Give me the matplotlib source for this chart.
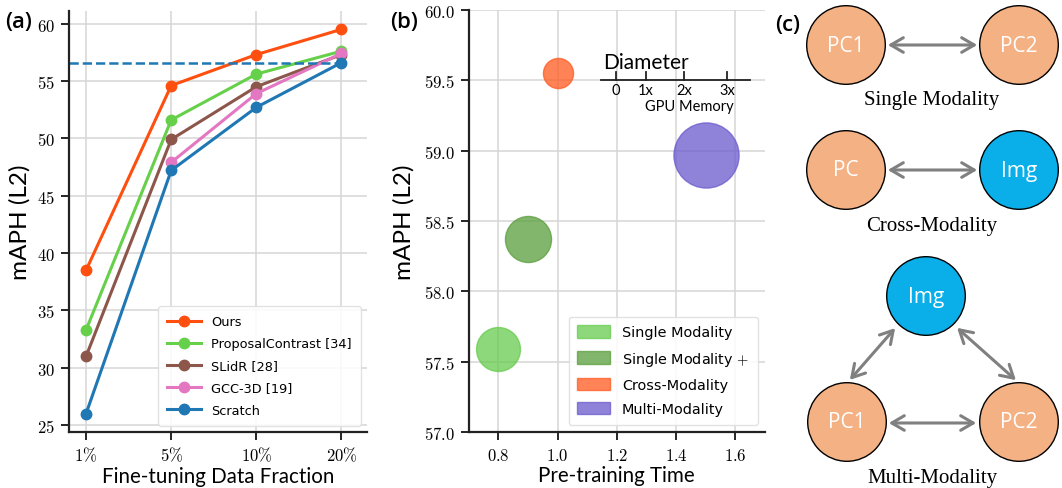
import numpy as np
import matplotlib
matplotlib.use("Agg")
import matplotlib.pyplot as plt
from matplotlib.patches import Circle, FancyArrowPatch, Patch
from matplotlib.ticker import FuncFormatter

plt.rcParams['mathtext.fontset'] = 'cm'

# ---- panel (a) data ----
fractions = ['1%', '5%', '10%', '20%']
methods = ['Ours', 'ProposalContrast [34]', 'SLidR [28]', 'GCC-3D [19]', 'Scratch']
scores = [
    [38.5, 54.6, 57.3, 59.5],
    [33.3, 51.6, 55.6, 57.6],
    [31.0, 49.9, 54.5, 57.3],
    [np.nan, 47.9, 53.9, 57.4],
    [26.0, 47.2, 52.7, 56.6],
]
line_colors = ['#ff4f0f', '#66d04a', '#8c564b', '#e377c2', '#1f77b4']

# ---- panel (b) data ----
groups = ['Single Modality', 'Single Modality $+$', 'Cross-Modality', 'Multi-Modality']
pretrain_time = [0.8, 0.9, 1.0, 1.5]
maph = [57.59, 58.37, 59.55, 58.97]
bubble_size = [1000, 1100, 470, 2200]
bubble_colors = ['#66cc4d', '#5a9e3c', '#ff5a1f', '#6a5acd']
scale_labels = ['0', '1x', '2x', '3x']
scale_pos = [1.197, 1.297, 1.428, 1.573]

fig = plt.figure(figsize=(10.62, 4.89), dpi=100)

tick_fmt = FuncFormatter(lambda v, p: '$%g$' % v)


def style_axes(ax):
    for s in ['top', 'right']:
        ax.spines[s].set_visible(False)
    for s in ['left', 'bottom']:
        ax.spines[s].set_linewidth(1.6)
        ax.spines[s].set_color('#222222')
    ax.grid(True, color='#d6d6d6', linewidth=1.1)
    ax.set_axisbelow(True)
    ax.tick_params(length=6, width=1.2, labelsize=12, pad=4)


# ---------------- (a) ----------------
ax1 = fig.add_axes([0.065, 0.1145, 0.2806, 0.861])
style_axes(ax1)
xs = np.arange(len(fractions))
for name, vals, c in zip(methods, scores, line_colors):
    ax1.plot(xs, vals, '-o', color=c, lw=2.2, ms=7.5, label=name)
ax1.hlines(scores[-1][-1], -0.2, 3, colors='#1f77b4', linestyles='--', lw=1.8)
ax1.set_xlim(-0.2, 3.3)
ax1.set_ylim(24.4, 61.1)
ax1.set_yticks([25, 30, 35, 40, 45, 50, 55, 60])
ax1.yaxis.set_major_formatter(tick_fmt)
ax1.set_xticks(xs)
ax1.set_xticklabels(['$' + f.replace('%', r'\%') + '$' for f in fractions])
ax1.set_ylabel('mAPH (L2)', labelpad=5, family='Lato', fontsize=17.5)
ax1.set_xlabel('Fine-tuning Data Fraction', labelpad=1, family='Lato', fontsize=14.8)
ax1.legend(loc='lower right', fontsize=9.3, handlelength=2.6, framealpha=0.85,
           edgecolor='#dddddd', borderpad=0.7, labelspacing=0.7, handletextpad=0.8)
fig.text(0.005, 0.953, '(a)', family='Open Sans', fontweight='semibold', fontsize=16, va='center')

# ---------------- (b) ----------------
ax2 = fig.add_axes([0.4413, 0.1145, 0.279, 0.863])
style_axes(ax2)
for g, t, m, s, c in zip(groups, pretrain_time, maph, bubble_size, bubble_colors):
    ax2.scatter(t, m, s=s, color=c, alpha=0.75, edgecolors=c, linewidths=1, label=g)
ax2.set_xlim(0.7, 1.7)
ax2.set_ylim(57.0, 60.0)
ax2.set_xticks([0.8, 1.0, 1.2, 1.4, 1.6])
ax2.set_yticks([57.0, 57.5, 58.0, 58.5, 59.0, 59.5, 60.0])
ax2.xaxis.set_major_formatter(FuncFormatter(lambda v, p: '$%.1f$' % v))
ax2.yaxis.set_major_formatter(FuncFormatter(lambda v, p: '$%.1f$' % v))
ax2.set_ylabel('mAPH (L2)', labelpad=7, family='Lato', fontsize=17.5)
ax2.set_xlabel('Pre-training Time', labelpad=1, family='Lato', fontsize=14.8)
handles = [Patch(facecolor=c, edgecolor=c, alpha=0.75) for c in bubble_colors]
ax2.legend(handles, groups, loc='lower right', fontsize=10.4, framealpha=0.85,
           edgecolor='#dddddd', handlelength=2.3, handleheight=0.95, handletextpad=0.8,
           borderpad=0.6, labelspacing=0.7)

# diameter scale
ax2.plot([1.148, 1.648], [59.5, 59.5], color='#222222', lw=1.3)
for p, lab in zip(scale_pos, scale_labels):
    ax2.plot([p, p], [59.5, 59.56], color='#222222', lw=1.3)
    ax2.text(p, 59.43, lab, ha='center', va='center', family='Lato', fontsize=10.5)
ax2.text(1.153, 59.63, 'Diameter', ha='left', va='center', family='Lato', fontsize=15)
ax2.text(1.445, 59.32, 'GPU Memory', ha='center', va='center', family='Lato', fontsize=10.5)
fig.text(0.367, 0.953, '(b)', family='Open Sans', fontweight='semibold', fontsize=16, va='center')

# ---------------- (c) ----------------
ax3 = fig.add_axes([770 / 1062, 0, 292 / 1062, 1])
ax3.set_xlim(0, 292)
ax3.set_ylim(489, 0)
ax3.axis('off')

pc_color = '#f4b183'
img_color = '#0aafe9'
r = 39.3
nodes = [
    (76, 46, 'PC1', pc_color), (249, 46, 'PC2', pc_color),
    (76, 171, 'PC', pc_color), (249, 171, 'Img', img_color),
    (156, 297, 'Img', img_color), (77, 423, 'PC1', pc_color), (249, 423, 'PC2', pc_color),
]
for x, y, t, c in nodes:
    ax3.add_patch(Circle((x, y), r, facecolor=c, edgecolor='black', lw=1.0))
    ax3.text(x, y, t, color='white', ha='center', va='center', family='Open Sans', fontsize=15)

arrows = [((115, 46), (210, 46)), ((115, 171), (210, 171)), ((116, 424), (209, 424)),
          ((78, 383), (127, 327)), ((185, 327), (248, 383))]
for a, b in arrows:
    ax3.add_patch(FancyArrowPatch(a, b, arrowstyle='<->,head_length=6,head_width=3.5',
                                  color='#808080', lw=2.2, mutation_scale=1.5))

for y, t in [(100, 'Single Modality'), (227, 'Cross-Modality'), (478, 'Multi-Modality')]:
    ax3.text(162, y, t, ha='center', va='center', family='Liberation Serif', fontsize=15)
ax3.text(5, 25, '(c)', family='Open Sans', fontweight='semibold', fontsize=16, va='center')

fig.savefig('out.png', dpi=100)
